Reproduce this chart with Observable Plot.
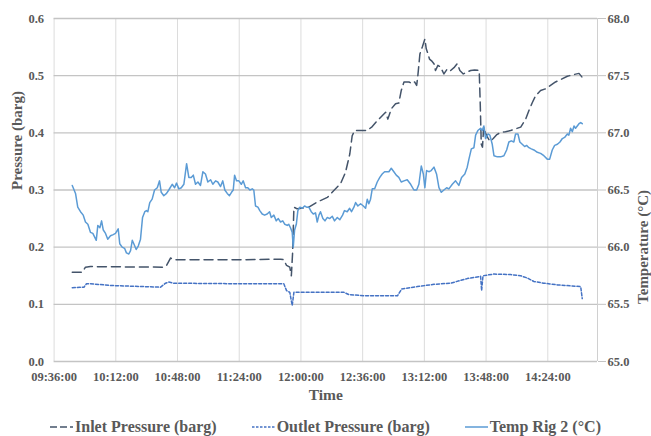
<!DOCTYPE html>
<html>
<head>
<meta charset="utf-8">
<script src="https://cdn.jsdelivr.net/npm/d3@7"></script>
<script src="https://cdn.jsdelivr.net/npm/@observablehq/plot@0.6"></script>
<style>
  html, body { margin: 0; padding: 0; background: #fff; overflow: hidden; }
  #wrap { width: 651px; }
  .legend { display: flex; justify-content: center; align-items: center; gap: 35px; height: 20px; padding-top: 7px;
    font-family: "Liberation Serif", "Times New Roman", serif; font-weight: bold; font-size: 16px; line-height: 18px; color: #595959; }
  .legend .item { display: flex; align-items: center; white-space: nowrap; }
  .legend svg { margin-right: 2px; }
</style>
</head>
<body>
<div id="wrap"></div>
<script>
// ---- data (time in minutes since midnight) ----
const xTickLabels = ["09:36:00","10:12:00","10:48:00","11:24:00","12:00:00","12:36:00","13:12:00","13:48:00","14:24:00"];
const xAxisEnd = "14:53:00";
const pressureTicks = [0, 0.1, 0.2, 0.3, 0.4, 0.5, 0.6];
const tempTicks = [65.0, 65.5, 66.0, 66.5, 67.0, 67.5, 68.0];

const inletPressure = [
[586.6,0.156],[592.4,0.156],[594.3,0.165],[597.2,0.166],[640.0,0.165],[641.6,0.168],[643.9,0.181],[645.8,0.178],
[682.8,0.178],[708.1,0.179],[710.0,0.178],[711.6,0.168],[713.5,0.165],[714.4,0.150],[715.1,0.188],[715.9,0.270],
[717.8,0.267],[724.6,0.270],[729.5,0.279],[735.4,0.287],[739.2,0.299],[743.1,0.311],[746.0,0.331],[748.5,0.363],
[749.9,0.395],[751.3,0.404],[758.7,0.404],[761.6,0.411],[764.5,0.421],[767.4,0.430],[769.4,0.436],[770.7,0.424],
[772.7,0.442],[775.2,0.451],[777.1,0.452],[778.5,0.474],[780.1,0.489],[783.0,0.489],[785.0,0.486],[786.3,0.489],
[787.5,0.483],[788.2,0.500],[789.4,0.538],[790.8,0.550],[792.3,0.564],[793.1,0.547],[794.1,0.538],[795.0,0.529],
[796.2,0.526],[797.6,0.521],[798.5,0.509],[799.9,0.518],[801.5,0.515],[803.4,0.503],[805.4,0.512],[807.3,0.509],
[809.6,0.515],[811.2,0.521],[812.7,0.509],[814.7,0.503],[816.6,0.506],[819.0,0.509],[821.3,0.510],[824.0,0.509],
[824.6,0.450],[825.2,0.380],[825.9,0.375],[826.6,0.410],[827.6,0.400],[828.9,0.392],[830.3,0.385],[832.2,0.390],
[834.3,0.397],[836.8,0.401],[839.3,0.402],[842.3,0.404],[845.2,0.407],[848.2,0.410],[851.1,0.424],[853.0,0.439],
[855.0,0.453],[856.9,0.465],[859.8,0.474],[862.7,0.477],[865.6,0.483],[868.5,0.489],[871.5,0.493],[875.4,0.499],
[879.3,0.502],[882.2,0.504],[884.1,0.497]
];

const outletPressure = [
[586.6,0.129],[593.4,0.130],[594.9,0.136],[597.2,0.136],[608.9,0.133],[638.1,0.130],[641.0,0.137],[642.9,0.139],
[645.8,0.137],[684.5,0.136],[710.0,0.136],[711.6,0.124],[713.5,0.121],[714.9,0.098],[715.9,0.121],[727.6,0.121],
[745.1,0.121],[748.0,0.117],[756.8,0.115],[776.3,0.115],[778.8,0.127],[787.9,0.131],[797.6,0.135],[807.3,0.137],
[817.0,0.145],[824.8,0.149],[825.4,0.124],[826.2,0.150],[832.6,0.153],[842.3,0.152],[848.2,0.150],[852.1,0.146],
[855.9,0.140],[861.7,0.137],[869.6,0.134],[883.2,0.131],[884.1,0.110]
];

const tempRig2 = [
[586.6,66.54],[588.5,66.47],[589.8,66.35],[591.4,66.31],[593.0,66.28],[594.3,66.22],[595.7,66.20],[597.2,66.13],
[598.6,66.12],[600.6,66.06],[601.5,66.19],[602.7,66.17],[603.7,66.23],[604.7,66.15],[606.0,66.12],[607.3,66.07],
[608.9,66.10],[610.5,66.11],[611.8,66.12],[613.4,66.16],[614.3,66.03],[615.7,66.00],[617.1,65.99],[618.2,65.95],
[619.6,65.94],[620.6,65.97],[621.6,66.06],[622.5,66.03],[623.9,65.98],[625.1,66.01],[626.4,66.07],[627.6,66.26],
[628.9,66.31],[629.9,66.32],[630.7,66.31],[631.8,66.39],[633.2,66.42],[634.6,66.50],[636.2,66.52],[637.5,66.58],
[638.5,66.48],[640.0,66.45],[641.6,66.47],[642.9,66.50],[644.9,66.55],[646.3,66.52],[647.4,66.56],[648.8,66.51],
[650.2,66.52],[651.7,66.55],[653.3,66.73],[654.6,66.61],[656.0,66.61],[657.2,66.63],[658.5,66.55],[659.9,66.57],
[661.4,66.54],[662.8,66.66],[664.3,66.64],[665.7,66.57],[667.3,66.59],[668.6,66.55],[670.2,66.58],[671.5,66.57],
[673.1,66.53],[674.4,66.58],[675.6,66.50],[677.0,66.47],[678.3,66.45],[679.5,66.48],[680.5,66.50],[681.3,66.63],
[682.4,66.58],[683.8,66.58],[685.2,66.55],[686.3,66.58],[687.7,66.52],[689.0,66.52],[690.2,66.50],[691.6,66.51],
[692.5,66.50],[693.5,66.36],[694.9,66.35],[696.0,66.32],[697.4,66.29],[698.8,66.28],[700.3,66.29],[701.7,66.31],
[702.7,66.26],[704.2,66.28],[705.6,66.23],[706.8,66.25],[708.1,66.22],[709.4,66.23],[710.6,66.20],[712.0,66.19],
[712.9,66.20],[713.9,66.17],[714.9,66.13],[715.5,66.00],[716.3,66.15],[717.3,66.20],[718.2,66.32],[719.4,66.35],
[720.8,66.34],[722.1,66.36],[723.3,66.35],[724.6,66.35],[726.0,66.31],[727.2,66.29],[728.5,66.30],[729.5,66.22],
[730.5,66.28],[731.4,66.31],[732.8,66.25],[734.0,66.23],[735.4,66.26],[736.7,66.25],[738.3,66.27],[739.6,66.23],
[741.2,66.26],[742.7,66.24],[744.3,66.28],[745.4,66.32],[747.0,66.31],[748.4,66.34],[749.5,66.31],[750.9,66.35],
[751.9,66.39],[753.2,66.36],[754.8,66.38],[756.4,66.36],[757.7,66.34],[758.7,66.42],[759.6,66.38],[760.6,66.42],
[761.6,66.51],[763.0,66.51],[764.5,66.57],[766.0,66.61],[767.4,66.64],[768.8,66.66],[770.0,66.66],[771.3,66.66],
[772.7,66.69],[774.2,66.66],[775.6,66.63],[777.1,66.61],[778.5,66.57],[780.1,66.58],[782.0,66.59],[784.0,66.55],
[785.9,66.50],[787.5,66.50],[788.8,66.55],[790.2,66.71],[791.4,66.64],[792.3,66.52],[793.3,66.67],[794.6,66.66],
[796.0,66.67],[797.6,66.70],[799.1,66.64],[800.5,66.52],[801.9,66.48],[803.4,66.50],[805.0,66.52],[806.3,66.51],
[808.3,66.55],[810.2,66.58],[812.1,66.54],[813.7,66.61],[815.6,66.64],[817.0,66.70],[818.0,66.77],[819.4,66.86],
[820.9,66.87],[821.9,66.98],[823.2,67.02],[824.8,67.04],[825.8,67.02],[826.7,67.06],[827.7,66.95],[829.1,66.99],
[830.2,66.98],[831.6,66.90],[832.6,66.80],[834.6,66.79],[836.5,66.79],[838.4,66.80],[840.0,66.85],[841.3,66.92],
[842.7,66.93],[844.2,66.92],[845.2,66.99],[846.6,66.99],[847.7,66.92],[849.1,66.90],[850.5,66.88],[851.6,66.89],
[853.0,66.87],[854.4,66.86],[855.9,66.85],[857.9,66.83],[859.8,66.82],[861.7,66.80],[863.7,66.77],[865.1,66.77],
[866.6,66.85],[868.0,66.89],[869.6,66.90],[871.1,66.92],[872.5,66.95],[873.8,66.96],[875.4,66.99],[876.3,66.98],
[877.3,67.04],[878.3,67.01],[879.3,67.06],[880.2,67.04],[881.2,67.06],[882.2,67.08],[883.2,67.09],[884.1,67.08]
];

// ---- helpers ----
const toMin = s => { const [h, m, sec] = s.split(":").map(Number); return h * 60 + m + (sec || 0) / 60; };
const pad = n => String(n).padStart(2, "0");
const fmtTime = v => { const t = Math.round(v); return `${pad(Math.floor(t / 60))}:${pad(t % 60)}:00`; };
const tempMin = tempTicks[0], tempMax = tempTicks[tempTicks.length - 1];
const pMax = pressureTicks[pressureTicks.length - 1];
const tempToP = t => (t - tempMin) / (tempMax - tempMin) * pMax;
const pToTemp = p => tempMin + p / pMax * (tempMax - tempMin);

const xTicks = xTickLabels.map(toMin);
const FONT = "'Liberation Serif', 'Times New Roman', serif";
const GREY = "#595959";

const chart = Plot.plot({
  width: 651,
  height: 410,
  marginTop: 18,
  marginBottom: 49,
  marginLeft: 53.6,
  marginRight: 54,
  style: { fontFamily: FONT, fontWeight: "bold", fontSize: "12.5px", color: GREY, background: "#fff", overflow: "visible" },
  x: { type: "linear", domain: [xTicks[0], toMin(xAxisEnd)], label: null },
  y: { domain: [0, pMax], label: null },
  marks: [
    Plot.ruleX(xTicks, { stroke: "#DCDCDC", strokeWidth: 1 }),
    Plot.ruleX([toMin(xAxisEnd)], { stroke: "#D0D0D0", strokeWidth: 1 }),
    Plot.ruleY(pressureTicks, { stroke: "#C4C4C4", strokeWidth: 1.3 }),
    Plot.axisX(xTicks, { tickSize: 0, tickPadding: 11, tickFormat: fmtTime, fill: GREY, label: null }),
    Plot.axisY(pressureTicks, { anchor: "left", tickSize: 0, tickPadding: 10, tickFormat: d => d.toFixed(1), fill: GREY, label: null }),
    Plot.axisY(tempTicks.map(tempToP), { anchor: "right", tickSize: 8, tickPadding: 2, stroke: "#C4C4C4",
      tickFormat: d => pToTemp(d).toFixed(1), fill: GREY, label: null }),
    Plot.line(inletPressure, { x: d => d[0], y: d => d[1], stroke: "#44546A", strokeWidth: 1.5, strokeDasharray: "9,5" }),
    Plot.line(outletPressure, { x: d => d[0], y: d => d[1], stroke: "#4472C4", strokeWidth: 1.5, strokeDasharray: "3,2" }),
    Plot.line(tempRig2, { x: d => d[0], y: d => tempToP(d[1]), stroke: "#5B9BD5", strokeWidth: 1.5 }),
    Plot.text(["Pressure (barg)"], { text: d => d, frameAnchor: "left", dx: -37, rotate: -90, fontSize: 15, fontWeight: "bold", fill: GREY }),
    Plot.text(["Temperature (°C)"], { text: d => d, frameAnchor: "right", dx: 46, rotate: -90, fontSize: 15, fontWeight: "bold", fill: GREY }),
    Plot.text(["Time"], { text: d => d, frameAnchor: "bottom", dy: 38, fontSize: 15.5, fontWeight: "bold", fill: GREY })
  ]
});

const wrap = document.getElementById("wrap");
wrap.appendChild(chart);

// ---- legend ----
const legendItems = [
  { label: "Inlet Pressure (barg)", color: "#44546A", dash: "7,3" },
  { label: "Outlet Pressure (barg)", color: "#4472C4", dash: "2.5,1.5" },
  { label: "Temp Rig 2 (°C)", color: "#5B9BD5", dash: null }
];
const legend = document.createElement("div");
legend.className = "legend";
for (const it of legendItems) {
  const item = document.createElement("div");
  item.className = "item";
  const ns = "http://www.w3.org/2000/svg";
  const s = document.createElementNS(ns, "svg");
  s.setAttribute("width", 23); s.setAttribute("height", 10);
  const l = document.createElementNS(ns, "line");
  l.setAttribute("x1", 0); l.setAttribute("x2", 23); l.setAttribute("y1", 5); l.setAttribute("y2", 5);
  l.setAttribute("stroke", it.color); l.setAttribute("stroke-width", 1.5);
  if (it.dash) l.setAttribute("stroke-dasharray", it.dash);
  s.appendChild(l);
  item.appendChild(s);
  const t = document.createElement("span");
  t.textContent = it.label;
  item.appendChild(t);
  legend.appendChild(item);
}
wrap.appendChild(legend);
</script>
</body>
</html>
